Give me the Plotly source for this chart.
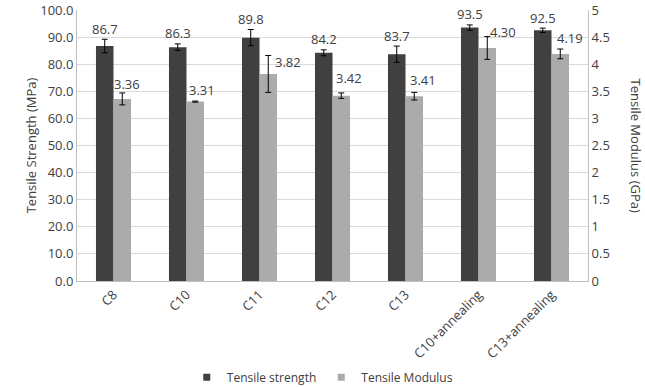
import plotly.graph_objects as go

categories = ["C8", "C10", "C11", "C12", "C13", "C10+annealing", "C13+annealing"]
strength = [86.7, 86.3, 89.8, 84.2, 83.7, 93.5, 92.5]
strength_err = [2.5, 1.2, 3.0, 1.1, 3.0, 1.0, 0.8]
modulus = [3.36, 3.31, 3.82, 3.42, 3.41, 4.30, 4.19]
modulus_err = [0.11, 0.01, 0.34, 0.05, 0.07, 0.21, 0.09]
modulus_labels = ["3.36", "3.31", "3.82", "3.42", "3.41", "4.30", "4.19"]
# label nudges (pixels, relative to category centre / bar top)
mod_label_dx = [13, 15, 28, 16, 17, 24, 18]
mod_label_dy = [15, 12, 12, 18, 16, 16, 16]

FONT = "Open Sans"
TXT = "#404040"
DARK = "#404040"
LIGHT = "#ababab"
GRID = "#d9d9d9"
AXIS = "#bfbfbf"

fig = go.Figure()
fig.add_trace(go.Bar(
    x=categories, y=strength, name="Tensile strength", showlegend=False,
    marker=dict(color=DARK, line=dict(width=0)),
    error_y=dict(type="data", array=strength_err, color="black", thickness=1, width=3),
    offsetgroup="1", yaxis="y",
))
fig.add_trace(go.Bar(
    x=categories, y=modulus, name="Tensile Modulus", showlegend=False,
    marker=dict(color=LIGHT, line=dict(width=0)),
    error_y=dict(type="data", array=modulus_err, color="black", thickness=1, width=3),
    offsetgroup="2", yaxis="y2",
))
# legend entries with small square keys
fig.add_trace(go.Scatter(x=[None], y=[None], mode="markers", name="Tensile strength",
                         marker=dict(symbol="square", size=7, color=DARK)))
fig.add_trace(go.Scatter(x=[None], y=[None], mode="markers", name="Tensile Modulus",
                         marker=dict(symbol="square", size=7, color=LIGHT)))

ann = []
for i, c in enumerate(categories):
    ann.append(dict(x=c, y=strength[i] + strength_err[i], xref="x", yref="y",
                    text=f"{strength[i]:.1f}", showarrow=False, yanchor="middle",
                    xshift=-9, yshift=10.5, font=dict(family=FONT, size=13, color=TXT)))
    ann.append(dict(x=c, y=modulus[i], xref="x", yref="y2",
                    text=modulus_labels[i], showarrow=False, yanchor="middle",
                    xshift=mod_label_dx[i], yshift=mod_label_dy[i],
                    font=dict(family=FONT, size=13, color=TXT)))
ann.append(dict(x=1.0, xref="paper", xanchor="center", xshift=48, y=0.5, yref="paper",
                text="Tensile Modulus (GPa)", textangle=90, showarrow=False,
                font=dict(family=FONT, size=13, color=TXT)))

fig.update_layout(
    width=645, height=387,
    margin=dict(l=77, r=57, t=10, b=106, autoexpand=False),
    paper_bgcolor="white", plot_bgcolor="white",
    barmode="group", bargap=0.52, bargroupgap=0,
    font=dict(family=FONT, size=13, color=TXT),
    showlegend=True,
    legend=dict(orientation="h", x=0.48, xanchor="center", y=-0.355, yanchor="middle",
                font=dict(family=FONT, size=12, color=TXT), itemwidth=30,
                tracegroupgap=0),
    xaxis=dict(showline=True, linecolor=AXIS, tickangle=-45, ticks="", automargin=False,
               tickfont=dict(family=FONT, size=13, color=TXT)),
    yaxis=dict(range=[0, 100.001], tickvals=[0, 10, 20, 30, 40, 50, 60, 70, 80, 90, 100],
               tickformat=".1f", showgrid=True, gridcolor=GRID, automargin=False,
               ticklabeloverflow="allow",
               showline=True, linecolor=AXIS, ticks="", zeroline=False,
               title=dict(text="Tensile Strength (MPa)", standoff=0,
                          font=dict(family=FONT, size=13, color=TXT)),
               tickfont=dict(family=FONT, size=13, color=TXT)),
    yaxis2=dict(range=[0, 5.00005], tickvals=[0, 0.5, 1, 1.5, 2, 2.5, 3, 3.5, 4, 4.5, 5],
                overlaying="y", side="right", showgrid=False, automargin=False,
                ticklabeloverflow="allow",
                showline=True, linecolor=AXIS, ticks="", zeroline=False,
                tickfont=dict(family=FONT, size=13, color=TXT)),
    annotations=ann,
)

fig.write_html("out.html", config={"displayModeBar": False},
               post_script="document.body.style.margin='0';")
